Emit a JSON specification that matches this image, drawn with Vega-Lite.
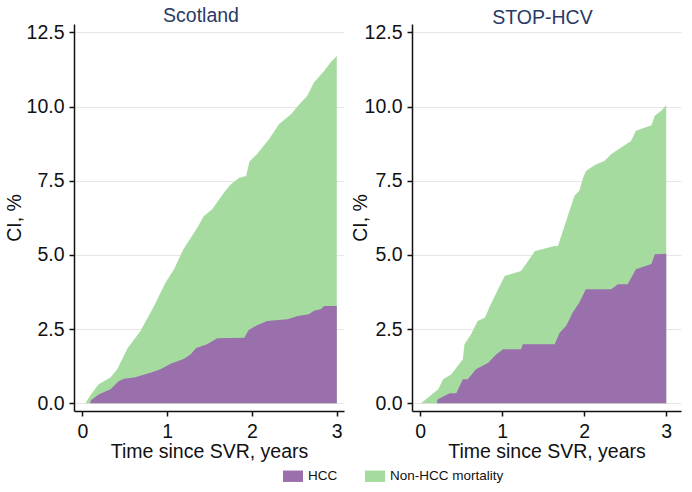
{
  "$schema": "https://vega.github.io/schema/vega-lite/v6.json",
  "background": "white",
  "padding": {"left": 4, "top": 5, "right": 5, "bottom": 5},
  "datasets": {
    "cif": [
      {"study": "Scotland", "series": "HCC", "t": 0, "ci": 0},
      {"study": "Scotland", "series": "HCC", "t": 0.09, "ci": 0},
      {"study": "Scotland", "series": "HCC", "t": 0.1, "ci": 0.1},
      {"study": "Scotland", "series": "HCC", "t": 0.19, "ci": 0.3},
      {"study": "Scotland", "series": "HCC", "t": 0.33, "ci": 0.47},
      {"study": "Scotland", "series": "HCC", "t": 0.43, "ci": 0.75},
      {"study": "Scotland", "series": "HCC", "t": 0.49, "ci": 0.83},
      {"study": "Scotland", "series": "HCC", "t": 0.61, "ci": 0.87},
      {"study": "Scotland", "series": "HCC", "t": 0.8, "ci": 1.03},
      {"study": "Scotland", "series": "HCC", "t": 0.92, "ci": 1.15},
      {"study": "Scotland", "series": "HCC", "t": 1.04, "ci": 1.33},
      {"study": "Scotland", "series": "HCC", "t": 1.2, "ci": 1.5},
      {"study": "Scotland", "series": "HCC", "t": 1.28, "ci": 1.66},
      {"study": "Scotland", "series": "HCC", "t": 1.34, "ci": 1.86},
      {"study": "Scotland", "series": "HCC", "t": 1.47, "ci": 1.99},
      {"study": "Scotland", "series": "HCC", "t": 1.59, "ci": 2.19},
      {"study": "Scotland", "series": "HCC", "t": 1.91, "ci": 2.21},
      {"study": "Scotland", "series": "HCC", "t": 1.96, "ci": 2.47},
      {"study": "Scotland", "series": "HCC", "t": 2.06, "ci": 2.63},
      {"study": "Scotland", "series": "HCC", "t": 2.18, "ci": 2.77},
      {"study": "Scotland", "series": "HCC", "t": 2.42, "ci": 2.83},
      {"study": "Scotland", "series": "HCC", "t": 2.54, "ci": 2.94},
      {"study": "Scotland", "series": "HCC", "t": 2.67, "ci": 3.0},
      {"study": "Scotland", "series": "HCC", "t": 2.73, "ci": 3.12},
      {"study": "Scotland", "series": "HCC", "t": 2.81, "ci": 3.17},
      {"study": "Scotland", "series": "HCC", "t": 2.85, "ci": 3.28},
      {"study": "Scotland", "series": "HCC", "t": 3.0, "ci": 3.28},

      {"study": "Scotland", "series": "Non-HCC mortality", "t": 0, "ci": 0},
      {"study": "Scotland", "series": "Non-HCC mortality", "t": 0.035, "ci": 0},
      {"study": "Scotland", "series": "Non-HCC mortality", "t": 0.09, "ci": 0.25},
      {"study": "Scotland", "series": "Non-HCC mortality", "t": 0.19, "ci": 0.64},
      {"study": "Scotland", "series": "Non-HCC mortality", "t": 0.33, "ci": 0.87},
      {"study": "Scotland", "series": "Non-HCC mortality", "t": 0.41, "ci": 1.15},
      {"study": "Scotland", "series": "Non-HCC mortality", "t": 0.53, "ci": 1.85},
      {"study": "Scotland", "series": "Non-HCC mortality", "t": 0.68, "ci": 2.42},
      {"study": "Scotland", "series": "Non-HCC mortality", "t": 0.84, "ci": 3.25},
      {"study": "Scotland", "series": "Non-HCC mortality", "t": 0.98, "ci": 4.07},
      {"study": "Scotland", "series": "Non-HCC mortality", "t": 1.08, "ci": 4.52},
      {"study": "Scotland", "series": "Non-HCC mortality", "t": 1.19, "ci": 5.19},
      {"study": "Scotland", "series": "Non-HCC mortality", "t": 1.35, "ci": 5.9},
      {"study": "Scotland", "series": "Non-HCC mortality", "t": 1.43, "ci": 6.3},
      {"study": "Scotland", "series": "Non-HCC mortality", "t": 1.53, "ci": 6.54},
      {"study": "Scotland", "series": "Non-HCC mortality", "t": 1.67, "ci": 7.1},
      {"study": "Scotland", "series": "Non-HCC mortality", "t": 1.75, "ci": 7.38},
      {"study": "Scotland", "series": "Non-HCC mortality", "t": 1.85, "ci": 7.6},
      {"study": "Scotland", "series": "Non-HCC mortality", "t": 1.93, "ci": 7.66},
      {"study": "Scotland", "series": "Non-HCC mortality", "t": 1.97, "ci": 8.15},
      {"study": "Scotland", "series": "Non-HCC mortality", "t": 2.06, "ci": 8.4},
      {"study": "Scotland", "series": "Non-HCC mortality", "t": 2.2, "ci": 8.9},
      {"study": "Scotland", "series": "Non-HCC mortality", "t": 2.32, "ci": 9.41},
      {"study": "Scotland", "series": "Non-HCC mortality", "t": 2.46, "ci": 9.74},
      {"study": "Scotland", "series": "Non-HCC mortality", "t": 2.54, "ci": 10.02},
      {"study": "Scotland", "series": "Non-HCC mortality", "t": 2.65, "ci": 10.35},
      {"study": "Scotland", "series": "Non-HCC mortality", "t": 2.73, "ci": 10.81},
      {"study": "Scotland", "series": "Non-HCC mortality", "t": 2.85, "ci": 11.2},
      {"study": "Scotland", "series": "Non-HCC mortality", "t": 2.93, "ci": 11.5},
      {"study": "Scotland", "series": "Non-HCC mortality", "t": 3.0, "ci": 11.7},

      {"study": "STOP-HCV", "series": "HCC", "t": 0, "ci": 0},
      {"study": "STOP-HCV", "series": "HCC", "t": 0.205, "ci": 0},
      {"study": "STOP-HCV", "series": "HCC", "t": 0.21, "ci": 0.13},
      {"study": "STOP-HCV", "series": "HCC", "t": 0.36, "ci": 0.34},
      {"study": "STOP-HCV", "series": "HCC", "t": 0.44, "ci": 0.34},
      {"study": "STOP-HCV", "series": "HCC", "t": 0.52, "ci": 0.81},
      {"study": "STOP-HCV", "series": "HCC", "t": 0.58, "ci": 0.81},
      {"study": "STOP-HCV", "series": "HCC", "t": 0.68, "ci": 1.15},
      {"study": "STOP-HCV", "series": "HCC", "t": 0.83, "ci": 1.37},
      {"study": "STOP-HCV", "series": "HCC", "t": 0.87, "ci": 1.48},
      {"study": "STOP-HCV", "series": "HCC", "t": 0.93, "ci": 1.65},
      {"study": "STOP-HCV", "series": "HCC", "t": 1.01, "ci": 1.82},
      {"study": "STOP-HCV", "series": "HCC", "t": 1.23, "ci": 1.82},
      {"study": "STOP-HCV", "series": "HCC", "t": 1.25, "ci": 1.99},
      {"study": "STOP-HCV", "series": "HCC", "t": 1.64, "ci": 1.99},
      {"study": "STOP-HCV", "series": "HCC", "t": 1.7, "ci": 2.38},
      {"study": "STOP-HCV", "series": "HCC", "t": 1.78, "ci": 2.61},
      {"study": "STOP-HCV", "series": "HCC", "t": 1.86, "ci": 3.06},
      {"study": "STOP-HCV", "series": "HCC", "t": 1.94, "ci": 3.4},
      {"study": "STOP-HCV", "series": "HCC", "t": 2.02, "ci": 3.84},
      {"study": "STOP-HCV", "series": "HCC", "t": 2.33, "ci": 3.84},
      {"study": "STOP-HCV", "series": "HCC", "t": 2.41, "ci": 4.01},
      {"study": "STOP-HCV", "series": "HCC", "t": 2.53, "ci": 4.01},
      {"study": "STOP-HCV", "series": "HCC", "t": 2.63, "ci": 4.52},
      {"study": "STOP-HCV", "series": "HCC", "t": 2.82, "ci": 4.69},
      {"study": "STOP-HCV", "series": "HCC", "t": 2.86, "ci": 5.02},
      {"study": "STOP-HCV", "series": "HCC", "t": 3.0, "ci": 5.04},

      {"study": "STOP-HCV", "series": "Non-HCC mortality", "t": 0, "ci": 0},
      {"study": "STOP-HCV", "series": "Non-HCC mortality", "t": 0.01, "ci": 0},
      {"study": "STOP-HCV", "series": "Non-HCC mortality", "t": 0.22, "ci": 0.47},
      {"study": "STOP-HCV", "series": "Non-HCC mortality", "t": 0.28, "ci": 0.81},
      {"study": "STOP-HCV", "series": "Non-HCC mortality", "t": 0.38, "ci": 0.98},
      {"study": "STOP-HCV", "series": "Non-HCC mortality", "t": 0.52, "ci": 1.48},
      {"study": "STOP-HCV", "series": "Non-HCC mortality", "t": 0.54, "ci": 1.99},
      {"study": "STOP-HCV", "series": "Non-HCC mortality", "t": 0.62, "ci": 2.33},
      {"study": "STOP-HCV", "series": "Non-HCC mortality", "t": 0.7, "ci": 2.77},
      {"study": "STOP-HCV", "series": "Non-HCC mortality", "t": 0.79, "ci": 2.89},
      {"study": "STOP-HCV", "series": "Non-HCC mortality", "t": 0.85, "ci": 3.28},
      {"study": "STOP-HCV", "series": "Non-HCC mortality", "t": 0.95, "ci": 3.84},
      {"study": "STOP-HCV", "series": "Non-HCC mortality", "t": 1.03, "ci": 4.29},
      {"study": "STOP-HCV", "series": "Non-HCC mortality", "t": 1.23, "ci": 4.46},
      {"study": "STOP-HCV", "series": "Non-HCC mortality", "t": 1.4, "ci": 5.13},
      {"study": "STOP-HCV", "series": "Non-HCC mortality", "t": 1.64, "ci": 5.3},
      {"study": "STOP-HCV", "series": "Non-HCC mortality", "t": 1.68, "ci": 5.3},
      {"study": "STOP-HCV", "series": "Non-HCC mortality", "t": 1.76, "ci": 5.98},
      {"study": "STOP-HCV", "series": "Non-HCC mortality", "t": 1.84, "ci": 6.65},
      {"study": "STOP-HCV", "series": "Non-HCC mortality", "t": 1.88, "ci": 6.99},
      {"study": "STOP-HCV", "series": "Non-HCC mortality", "t": 1.94, "ci": 7.16},
      {"study": "STOP-HCV", "series": "Non-HCC mortality", "t": 1.98, "ci": 7.55},
      {"study": "STOP-HCV", "series": "Non-HCC mortality", "t": 2.02, "ci": 7.83},
      {"study": "STOP-HCV", "series": "Non-HCC mortality", "t": 2.13, "ci": 8.03},
      {"study": "STOP-HCV", "series": "Non-HCC mortality", "t": 2.25, "ci": 8.17},
      {"study": "STOP-HCV", "series": "Non-HCC mortality", "t": 2.33, "ci": 8.4},
      {"study": "STOP-HCV", "series": "Non-HCC mortality", "t": 2.57, "ci": 8.84},
      {"study": "STOP-HCV", "series": "Non-HCC mortality", "t": 2.63, "ci": 9.18},
      {"study": "STOP-HCV", "series": "Non-HCC mortality", "t": 2.82, "ci": 9.37},
      {"study": "STOP-HCV", "series": "Non-HCC mortality", "t": 2.86, "ci": 9.69},
      {"study": "STOP-HCV", "series": "Non-HCC mortality", "t": 2.94, "ci": 9.86},
      {"study": "STOP-HCV", "series": "Non-HCC mortality", "t": 3.0, "ci": 10.05}
    ]
  },
  "data": {"name": "cif"},
  "config": {
    "font": "Liberation Sans",
    "view": {"stroke": null},
    "axis": {
      "domainColor": "#111111",
      "domainWidth": 1.5,
      "tickColor": "#111111",
      "tickWidth": 1.5,
      "tickSize": 5,
      "labelColor": "#111111",
      "labelFontSize": 19.5,
      "labelFont": "Liberation Sans",
      "titleFont": "Liberation Sans",
      "titleFontSize": 19.5,
      "titleFontWeight": "normal",
      "titleColor": "#111111",
      "gridColor": "#e6e6e6",
      "gridWidth": 1
    },
    "title": {"font": "Liberation Sans", "fontSize": 19.5, "fontWeight": "normal", "color": "#2a3a66"},
    "legend": {"labelFont": "Liberation Sans"}
  },
  "spacing": 6,
  "hconcat": [
    {
      "width": 270,
      "height": 387,
      "title": {"text": "Scotland", "dx": -8, "offset": -4},
      "transform": [{"filter": "datum.study === 'Scotland'"}],
      "encoding": {
        "x": {
          "field": "t", "type": "quantitative",
          "scale": {"domain": [-0.1, 3.085], "nice": false, "zero": false},
          "axis": {"values": [0, 1, 2, 3], "format": "d", "grid": false, "title": "Time since SVR, years", "labelPadding": 6, "titlePadding": 2}
        },
        "y": {
          "field": "ci", "type": "quantitative",
          "scale": {"domain": [-0.26, 12.78], "nice": false, "zero": false},
          "axis": {"values": [0, 2.5, 5, 7.5, 10, 12.5], "format": ".1f", "grid": true, "title": "CI, %", "labelPadding": 5, "titlePadding": 2}
        },
        "color": {
          "field": "series", "type": "nominal",
          "scale": {"domain": ["HCC", "Non-HCC mortality"], "range": ["#9970ab", "#a6dba0"]},
          "legend": {
            "orient": "none", "legendX": 209, "legendY": 442, "direction": "horizontal", "title": null,
            "symbolType": "M-1,-0.57H1V0.57H-1Z", "symbolSize": 400,
            "symbolStrokeWidth": 0, "symbolOpacity": 1,
            "labelFontSize": 13.5, "labelColor": "#111111", "labelOffset": 5, "columnPadding": 27
          }
        }
      },
      "layer": [
        {"transform": [{"filter": "datum.series === 'Non-HCC mortality'"}], "mark": {"type": "area", "opacity": 1, "interpolate": "linear"}},
        {"transform": [{"filter": "datum.series === 'HCC'"}], "mark": {"type": "area", "opacity": 1, "interpolate": "linear"}}
      ]
    },
    {
      "width": 269,
      "height": 387,
      "title": {"text": "STOP-HCV", "dx": -4, "offset": -6.5},
      "transform": [{"filter": "datum.study === 'STOP-HCV'"}],
      "encoding": {
        "x": {
          "field": "t", "type": "quantitative",
          "scale": {"domain": [-0.1, 3.18], "nice": false, "zero": false},
          "axis": {"values": [0, 1, 2, 3], "format": "d", "grid": false, "title": "Time since SVR, years", "labelPadding": 6, "titlePadding": 2}
        },
        "y": {
          "field": "ci", "type": "quantitative",
          "scale": {"domain": [-0.26, 12.78], "nice": false, "zero": false},
          "axis": {"values": [0, 2.5, 5, 7.5, 10, 12.5], "format": ".1f", "grid": true, "title": "CI, %", "labelPadding": 5, "titlePadding": -6}
        },
        "color": {
          "field": "series", "type": "nominal",
          "scale": {"domain": ["HCC", "Non-HCC mortality"], "range": ["#9970ab", "#a6dba0"]}
        }
      },
      "layer": [
        {"transform": [{"filter": "datum.series === 'Non-HCC mortality'"}], "mark": {"type": "area", "opacity": 1, "interpolate": "linear"}},
        {"transform": [{"filter": "datum.series === 'HCC'"}], "mark": {"type": "area", "opacity": 1, "interpolate": "linear"}}
      ]
    }
  ],
  "resolve": {"scale": {"y": "independent", "x": "independent"}}
}
